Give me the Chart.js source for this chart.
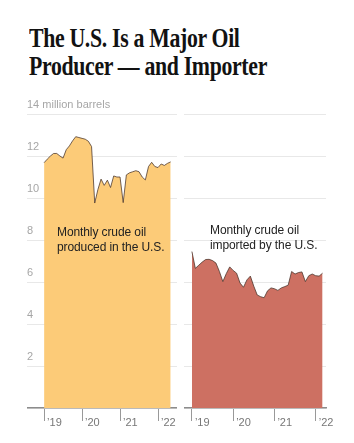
<!DOCTYPE html>
<html>
<head>
<meta charset="utf-8">
<script src="https://cdn.jsdelivr.net/npm/chart.js@4.4.1/dist/chart.umd.min.js"></script>
<style>
    html, body { margin: 0; padding: 0; background: #fff; }
    body { width: 354px; height: 443px; position: relative; overflow: hidden; }
    .title {
        position: absolute; left: 29px; top: 24px;
        font-family: "Liberation Serif", serif; font-weight: bold;
        font-size: 27px; line-height: 28px; color: #121212;
        letter-spacing: -0.4px; transform-origin: 0 0;
        white-space: nowrap;
    }
    .note {
        position: absolute; font-family: "Liberation Sans", sans-serif;
        font-size: 12px; line-height: 15px; color: #222; white-space: nowrap;
        letter-spacing: -0.1px;
    }
    canvas { position: absolute; }
</style>
</head>
<body>
<div class="title" id="title">The U.S. Is a Major Oil<br>Producer — and Importer</div>
<canvas id="prodChart" style="left:27px; top:95px; width:150px; height:340px;"></canvas>
<canvas id="importChart" style="left:184px; top:95px; width:162px; height:340px;"></canvas>
<div class="note" style="left:57px; top:225px;">Monthly crude oil<br>produced in the U.S.</div>
<div class="note" style="left:210px; top:223px;">Monthly crude oil<br>imported by the U.S.</div>

<script>
// monthly values, million barrels a day, starting Jan 2019
const production = [
    11.68, 11.85, 12.0, 12.12, 12.12, 12.0, 11.9, 12.3, 12.48, 12.72, 12.92, 12.88,
    12.84, 12.8, 12.7, 12.45, 9.76, 10.4, 10.9, 10.6, 10.85, 10.5, 11.05, 11.0,
    11.0, 9.78, 11.1, 11.2, 11.25, 11.3, 11.25, 11.0, 10.86, 11.5, 11.7, 11.5,
    11.45, 11.62, 11.55, 11.65, 11.72
];
const imports = [
    7.45, 6.65, 6.8, 6.95, 7.07, 7.08, 7.02, 6.9, 6.5, 6.02, 6.4, 6.72,
    6.55, 6.42, 5.95, 5.75, 6.1, 6.28, 5.8, 5.38, 5.3, 5.25, 5.58, 5.72,
    5.68, 5.6, 5.72, 5.78, 5.85, 6.5, 6.38, 6.45, 6.48, 6.02, 6.3, 6.38,
    6.3, 6.28, 6.42
];
const yearLabels = ['’19', '’20', '’21', '’22'];
const yTicks = [0, 2, 4, 6, 8, 10, 12, 14];
const yUnit = 'million barrels';

const FONT = "'Liberation Sans', sans-serif";

// squeeze the headline to the condensed width of the original (second line ~238px)
const title = document.getElementById('title');
title.style.transform = `scaleX(${Math.min(1, 238 / title.getBoundingClientRect().width)})`;

function toPoints(values) {
    return values.map((v, i) => ({ x: i, y: v }));
}

function makeChart(id, values, color, xMin, xMax, showY, padRight) {
    return new Chart(document.getElementById(id), {
        type: 'line',
        data: {
            datasets: [{
                data: toPoints(values),
                fill: 'origin',
                backgroundColor: color,
                borderColor: 'rgba(70, 50, 40, 0.75)',
                borderWidth: 1,
                pointRadius: 0,
                tension: 0
            }]
        },
        options: {
            responsive: false,
            animation: false,
            devicePixelRatio: 1,
            layout: { padding: { top: 19, left: 0, right: padRight, bottom: 0 } },
            plugins: { legend: { display: false }, tooltip: { enabled: false } },
            scales: {
                x: {
                    type: 'linear',
                    min: xMin,
                    max: xMax,
                    afterBuildTicks: (axis) => {
                        axis.ticks = yearLabels.map((_, i) => ({ value: i * 12 }));
                    },
                    afterFit: (axis) => { axis.height = 27; },
                    ticks: {
                        callback: (v) => yearLabels[v / 12],
                        align: 'start',
                        labelOffset: 3,
                        padding: -5,
                        color: '#777',
                        font: { family: FONT, size: 11 },
                        autoSkip: false,
                        maxRotation: 0
                    },
                    grid: {
                        drawOnChartArea: false,
                        drawTicks: true,
                        tickLength: 13,
                        tickColor: '#999',
                        tickWidth: 1
                    },
                    border: { display: true, color: '#8c8c8c', width: 1.5 }
                },
                y: {
                    min: 0,
                    max: 14,
                    afterBuildTicks: (axis) => {
                        axis.ticks = yTicks.map(v => ({ value: v }));
                    },
                    ticks: {
                        display: showY,
                        mirror: true,
                        crossAlign: 'near',
                        padding: 0,
                        labelOffset: -9,
                        color: '#a6a6a6',
                        font: { family: FONT, size: 11 },
                        callback: (v) => v === 0 ? '' : (v === 14 ? `${v} ${yUnit}` : v)
                    },
                    grid: { color: '#e8e8e8', lineWidth: 1, drawTicks: false },
                    border: { display: false }
                }
            }
        }
    });
}

makeChart('prodChart', production, '#fccb78', -5.4, 42, true, 0);
makeChart('importChart', imports, '#cd7062', -2.3, 39, false, 20);
</script>
</body>
</html>
